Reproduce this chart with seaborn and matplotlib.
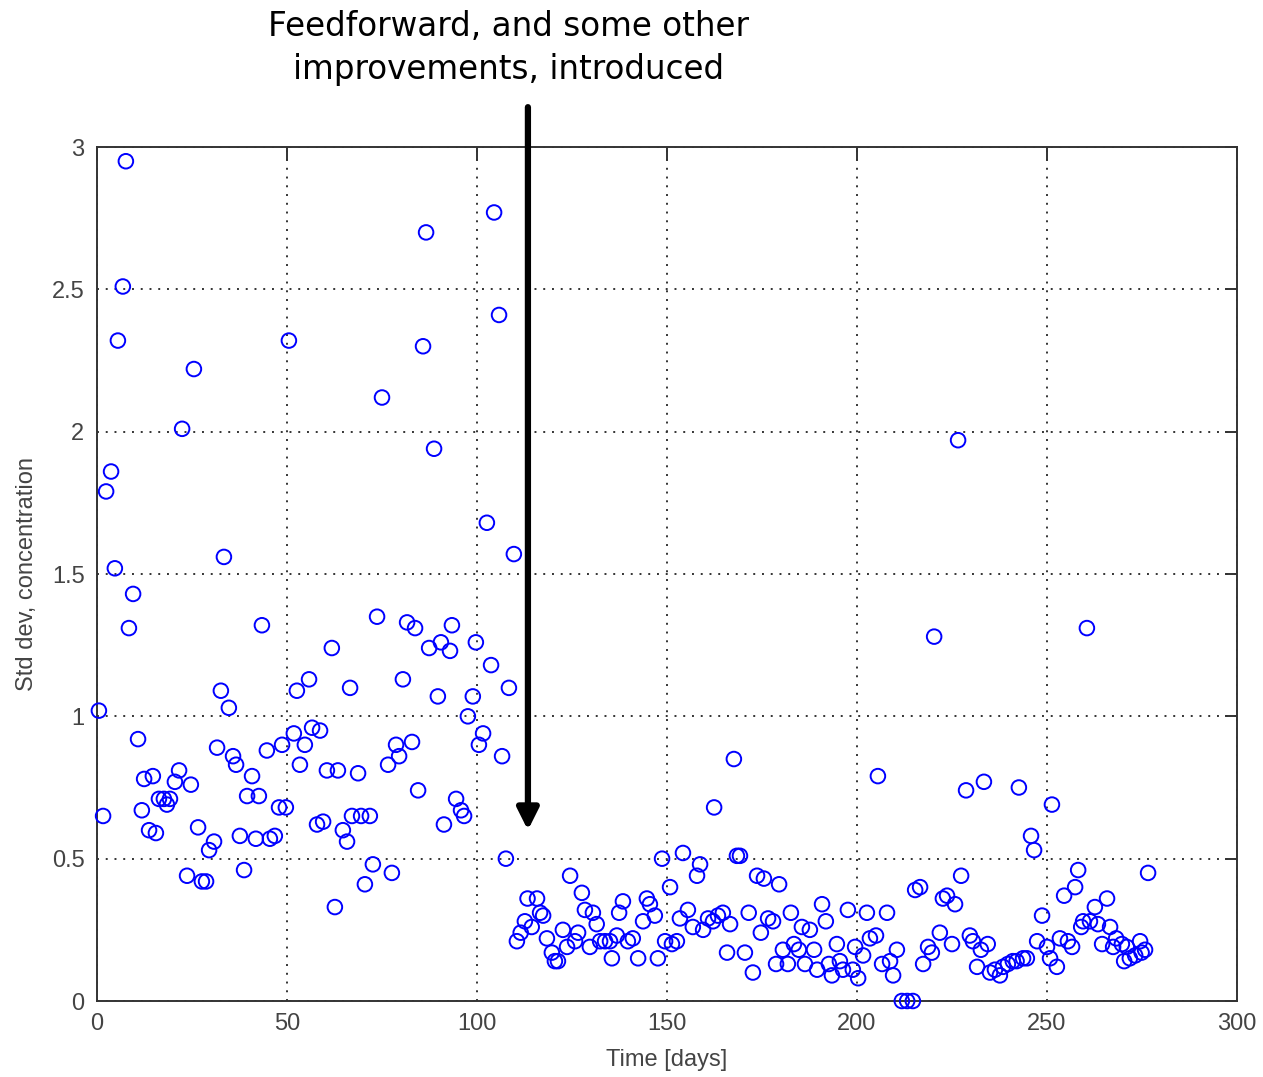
import matplotlib
matplotlib.use("Agg")
import matplotlib.pyplot as plt
import seaborn as sns
import pandas as pd

# values (day, std dev)
days = [
    0.5, 1.6, 2.4, 3.7, 4.7, 5.5, 6.8, 7.6, 8.4, 9.5,
    10.8, 11.8, 12.4, 13.7, 14.7, 15.5, 16.3, 17.6, 18.4, 19.2,
    20.5, 21.6, 22.4, 23.7, 24.7, 25.5, 26.6, 27.6, 28.7, 29.5,
    30.8, 31.6, 32.6, 33.4, 34.7, 35.8, 36.6, 37.6, 38.7, 39.5,
    40.8, 41.8, 42.6, 43.4, 44.7, 45.5, 46.8, 47.9, 48.7, 49.7,
    50.5, 51.8, 52.6, 53.4, 54.7, 55.8, 56.6, 57.9, 58.7, 59.5,
    60.5, 61.8, 62.6, 63.4, 64.7, 65.8, 66.6, 67.1, 68.7, 69.5,
    70.5, 71.8, 72.6, 73.7, 75.0, 76.6, 77.6, 78.7, 79.5, 80.5,
    81.6, 82.9, 83.7, 84.5, 85.8, 86.6, 87.4, 88.7, 89.7, 90.5,
    91.3, 92.9, 93.4, 94.5, 95.8, 96.6, 97.6, 98.9, 99.7, 100.5,
    101.6, 102.6, 103.7, 104.5, 105.8, 106.6, 107.6, 108.4, 109.7, 110.5,
    111.5, 112.6, 113.3, 114.4, 115.8, 116.6, 117.4, 118.4, 119.7, 120.5,
    121.3, 122.6, 123.7, 124.5, 125.8, 126.6, 127.6, 128.4, 129.7, 130.5,
    131.5, 132.4, 133.7, 135.0, 135.5, 136.8, 137.4, 138.4, 139.7, 141.0,
    142.4, 143.7, 144.7, 145.5, 146.8, 147.6, 148.7, 149.5, 150.8, 151.3,
    152.6, 153.4, 154.2, 155.5, 156.8, 157.9, 158.7, 159.5, 160.8, 162.1,
    162.4, 163.4, 164.7, 165.8, 166.6, 167.6, 168.4, 169.2, 170.5, 171.5,
    172.6, 173.7, 174.7, 175.5, 176.6, 177.9, 178.7, 179.5, 180.5, 181.8,
    182.6, 183.4, 184.7, 185.5, 186.3, 187.6, 188.7, 189.5, 190.8, 191.8,
    192.6, 193.4, 194.7, 195.5, 196.3, 197.6, 198.9, 199.5, 200.3, 201.6,
    202.6, 203.4, 205.0, 205.5, 206.6, 207.9, 208.7, 209.5, 210.5, 211.8,
    213.2, 214.7, 215.3, 216.6, 217.4, 218.7, 219.7, 220.3, 221.8, 222.6,
    223.7, 225.0, 225.8, 226.6, 227.4, 228.7, 229.7, 230.5, 231.6, 232.6,
    233.4, 234.4, 235.0, 236.3, 237.6, 238.4, 239.7, 241.0, 242.0, 242.6,
    243.7, 244.7, 245.8, 246.6, 247.4, 248.7, 250.0, 250.8, 251.3, 252.6,
    253.4, 254.5, 255.5, 256.6, 257.4, 258.2, 259.0, 259.5, 260.5, 261.3,
    262.6, 263.4, 264.5, 265.8, 266.6, 267.4, 268.2, 269.7, 270.3, 271.0,
    271.8, 273.2, 274.5, 274.9, 275.8, 276.6,
]
std_dev = [
    1.02, 0.65, 1.79, 1.86, 1.52, 2.32, 2.51, 2.95, 1.31, 1.43,
    0.92, 0.67, 0.78, 0.60, 0.79, 0.59, 0.71, 0.71, 0.69, 0.71,
    0.77, 0.81, 2.01, 0.44, 0.76, 2.22, 0.61, 0.42, 0.42, 0.53,
    0.56, 0.89, 1.09, 1.56, 1.03, 0.86, 0.83, 0.58, 0.46, 0.72,
    0.79, 0.57, 0.72, 1.32, 0.88, 0.57, 0.58, 0.68, 0.90, 0.68,
    2.32, 0.94, 1.09, 0.83, 0.90, 1.13, 0.96, 0.62, 0.95, 0.63,
    0.81, 1.24, 0.33, 0.81, 0.60, 0.56, 1.10, 0.65, 0.80, 0.65,
    0.41, 0.65, 0.48, 1.35, 2.12, 0.83, 0.45, 0.90, 0.86, 1.13,
    1.33, 0.91, 1.31, 0.74, 2.30, 2.70, 1.24, 1.94, 1.07, 1.26,
    0.62, 1.23, 1.32, 0.71, 0.67, 0.65, 1.00, 1.07, 1.26, 0.90,
    0.94, 1.68, 1.18, 2.77, 2.41, 0.86, 0.50, 1.10, 1.57, 0.21,
    0.24, 0.28, 0.36, 0.26, 0.36, 0.31, 0.30, 0.22, 0.17, 0.14,
    0.14, 0.25, 0.19, 0.44, 0.21, 0.24, 0.38, 0.32, 0.19, 0.31,
    0.27, 0.21, 0.21, 0.21, 0.15, 0.23, 0.31, 0.35, 0.21, 0.22,
    0.15, 0.28, 0.36, 0.34, 0.30, 0.15, 0.50, 0.21, 0.40, 0.20,
    0.21, 0.29, 0.52, 0.32, 0.26, 0.44, 0.48, 0.25, 0.29, 0.28,
    0.68, 0.30, 0.31, 0.17, 0.27, 0.85, 0.51, 0.51, 0.17, 0.31,
    0.10, 0.44, 0.24, 0.43, 0.29, 0.28, 0.13, 0.41, 0.18, 0.13,
    0.31, 0.20, 0.18, 0.26, 0.13, 0.25, 0.18, 0.11, 0.34, 0.28,
    0.13, 0.09, 0.20, 0.14, 0.11, 0.32, 0.11, 0.19, 0.08, 0.16,
    0.31, 0.22, 0.23, 0.79, 0.13, 0.31, 0.14, 0.09, 0.18, 0.0,
    0.0, 0.0, 0.39, 0.40, 0.13, 0.19, 0.17, 1.28, 0.24, 0.36,
    0.37, 0.20, 0.34, 1.97, 0.44, 0.74, 0.23, 0.21, 0.12, 0.18,
    0.77, 0.20, 0.10, 0.11, 0.09, 0.12, 0.13, 0.14, 0.14, 0.75,
    0.15, 0.15, 0.58, 0.53, 0.21, 0.30, 0.19, 0.15, 0.69, 0.12,
    0.22, 0.37, 0.21, 0.19, 0.40, 0.46, 0.26, 0.28, 1.31, 0.28,
    0.33, 0.27, 0.20, 0.36, 0.26, 0.19, 0.22, 0.20, 0.14, 0.19,
    0.15, 0.16, 0.21, 0.17, 0.18, 0.45,
]
x_ticks = [0, 50, 100, 150, 200, 250, 300]
y_ticks = [0, 0.5, 1, 1.5, 2, 2.5, 3]
y_tick_labels = ["0", "0.5", "1", "1.5", "2", "2.5", "3"]
note = "Feedforward, and some other\nimprovements, introduced"
arrow_day = 113.4

df = pd.DataFrame({"day": days, "std": std_dev})

sns.set_style("white")
plt.rcParams["font.family"] = ["Liberation Sans", "DejaVu Sans"]

fig = plt.figure(figsize=(12.63, 10.77), dpi=100)
ax = fig.add_axes([97 / 1263, 1 - 1001 / 1077, 1140 / 1263, 854 / 1077])

sns.scatterplot(data=df, x="day", y="std", ax=ax, marker="o", s=110,
                facecolor="none", edgecolor="#0000ff", linewidth=1.4,
                clip_on=False, zorder=3)

ax.set_xlim(0, 300)
ax.set_ylim(0, 3)
ax.set_xticks(x_ticks)
ax.set_yticks(y_ticks)
ax.set_yticklabels(y_tick_labels)
ax.grid(True, linestyle=(0, (1, 3.5)), color="#333333", linewidth=1.4)
ax.tick_params(direction="in", length=9, width=1.4, top=True, right=True,
               labelsize=17, colors="#333333", pad=9)
ax.tick_params(axis="both", labelcolor="#444444")
for sp in ax.spines.values():
    sp.set_color("#333333")
    sp.set_linewidth(1.4)
ax.set_xlabel("Time [days]", fontsize=17, color="#444444", labelpad=10)
ax.set_ylabel("Std dev, concentration", fontsize=17, color="#444444", labelpad=10)

ax.annotate("", xy=(arrow_day, 0.6), xytext=(arrow_day, 3.14),
            arrowprops=dict(arrowstyle="-|>", lw=4.5, color="black",
                            mutation_scale=32, shrinkA=0, shrinkB=0),
            annotation_clip=False)

fig.text(509 / 1263, 1 - 48 / 1077, note, ha="center", va="center",
         fontsize=23.5, family="DejaVu Sans", color="black", linespacing=1.4)

fig.savefig("out.png", dpi=100)
